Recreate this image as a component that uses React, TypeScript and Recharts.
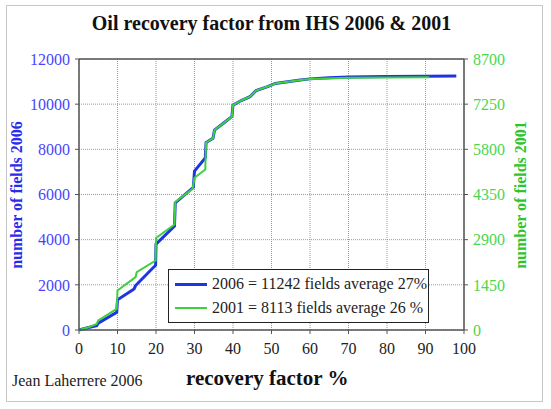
import { CartesianGrid, Legend, Line, LineChart, ReferenceLine, XAxis, YAxis } from 'recharts';

// recovery factor % (x) and cumulative number of fields
const rf2006 = [0, 2.5, 4.6, 5, 9.8, 10, 14.3, 14.7, 19.9, 20, 24.8, 25, 29.7, 30, 32.8, 33, 34.8, 35.2, 38, 39.7, 40, 42, 44.4, 46, 49, 51, 57, 60, 65, 70, 80, 90, 98];
const fields2006 = [0, 110, 195, 300, 780, 1340, 1820, 1970, 2870, 3800, 4600, 5630, 6320, 7040, 7620, 8300, 8490, 8850, 9220, 9450, 9960, 10150, 10330, 10600, 10780, 10920, 11060, 11120, 11170, 11200, 11225, 11236, 11242];

const rf2001 = [0, 2.5, 4.6, 5, 9.8, 10, 14.7, 15, 19.9, 20, 24.8, 25, 29.5, 30, 32.8, 33, 34.8, 35.2, 38, 39.7, 40, 42, 44.4, 46, 49, 51, 57, 60, 70, 80, 91];
const fields2001 = [0, 90, 196, 305, 680, 1270, 1700, 1855, 2230, 2955, 3385, 4110, 4530, 4885, 5155, 6020, 6155, 6415, 6685, 6850, 7220, 7360, 7490, 7685, 7815, 7915, 8020, 8060, 8095, 8106, 8113];

const xTicks = [0, 10, 20, 30, 40, 50, 60, 70, 80, 90, 100];
const leftTicks = [0, 2000, 4000, 6000, 8000, 10000, 12000];
const rightTicks = [0, 1450, 2900, 4350, 5800, 7250, 8700];

const SERIF = "'Liberation Serif', 'DejaVu Serif', serif";
const BLUE = '#1f35e0';
const GREEN = '#3fd03f';
const BLUE_TXT = '#4646ff';
const GREEN_TXT = '#4cd64c';
const FRAME = '#555';

const data2006 = rf2006.map((rf, i) => ({ rf, n: fields2006[i] }));
const data2001 = rf2001.map((rf, i) => ({ rf, n: fields2001[i] }));

function LegendBox() {
  const row = (color: string, w: number, label: string) => (
    <div style={{ display: 'flex', alignItems: 'center', height: 24 }}>
      <span style={{ display: 'inline-block', width: 32, height: w, background: color, marginRight: 5 }} />
      <span>{label}</span>
    </div>
  );
  return (
    <div
      style={{
        border: '1px solid #222',
        background: '#fff',
        padding: '2px 0 2px 6px',
        fontFamily: SERIF,
        fontSize: 16,
        color: '#222',
        boxSizing: 'border-box',
        width: 261,
        height: 54,
        whiteSpace: 'nowrap',
      }}
    >
      {row(BLUE, 3, '2006 = 11242 fields average 27%')}
      {row(GREEN, 2, '2001 = 8113 fields average 26 %')}
    </div>
  );
}

export default function App() {
  return (
    <div style={{ position: 'relative', width: 551, height: 409, background: '#fff', fontFamily: SERIF }}>
      <style>{`body{margin:0} .recharts-wrapper text{font-family:${SERIF} !important}`}</style>
      <div
        style={{
          position: 'absolute', left: 6, top: 5, width: 537, height: 397,
          border: '1px solid #c8c8c8', boxSizing: 'border-box',
        }}
      />
      <div
        style={{
          position: 'absolute', left: 0, top: 12, width: 543, textAlign: 'center',
          fontFamily: SERIF, fontWeight: 'bold', fontSize: 20, color: '#111',
        }}
      >
        Oil recovery factor from IHS 2006 &amp; 2001
      </div>
      <LineChart width={551} height={409} margin={{ top: 59, right: 0, bottom: 0, left: 0 }}>
        <CartesianGrid yAxisId="left" stroke="#9a9a9a" strokeDasharray="1 1" />
        <XAxis
          dataKey="rf"
          type="number"
          domain={[0, 100]}
          ticks={xTicks}
          height={79}
          tick={{ fill: '#222', fontSize: 16, fontFamily: SERIF }}
          tickSize={4}
          tickMargin={9}
          axisLine={{ stroke: FRAME, strokeWidth: 1.5 }}
          tickLine={{ stroke: FRAME }}
        />
        <YAxis
          yAxisId="left"
          domain={[0, 12000]}
          ticks={leftTicks}
          width={79}
          tick={{ fill: BLUE_TXT, fontSize: 16, fontFamily: SERIF }}
          tickSize={4}
          tickMargin={5}
          axisLine={{ stroke: FRAME, strokeWidth: 1.5 }}
          tickLine={{ stroke: FRAME }}
        />
        <YAxis
          yAxisId="right"
          orientation="right"
          domain={[0, 8700]}
          ticks={rightTicks}
          width={87}
          tick={{ fill: GREEN_TXT, fontSize: 16, fontFamily: SERIF }}
          tickSize={4}
          tickMargin={5}
          axisLine={{ stroke: FRAME, strokeWidth: 1.5 }}
          tickLine={{ stroke: FRAME }}
        />
        <ReferenceLine yAxisId="left" y={12000} stroke={FRAME} strokeWidth={1.5} />
        <Line
          data={data2006}
          dataKey="n"
          yAxisId="left"
          type="linear"
          stroke={BLUE}
          strokeWidth={3}
          dot={false}
          isAnimationActive={false}
        />
        <Line
          data={data2001}
          dataKey="n"
          yAxisId="right"
          type="linear"
          stroke={GREEN}
          strokeWidth={2}
          dot={false}
          isAnimationActive={false}
        />
        <Legend
          layout="horizontal"
          verticalAlign="middle"
          align="center"
          content={() => <LegendBox />}
          wrapperStyle={{ left: 168, top: 269, width: 261, height: 54 }}
        />
      </LineChart>
      <div
        style={{
          position: 'absolute', left: 17, top: 195, transform: 'translate(-50%, -50%) rotate(-90deg)',
          whiteSpace: 'nowrap', fontFamily: SERIF, fontWeight: 'bold', fontSize: 16, color: '#2b2bea',
        }}
      >
        number of fields 2006
      </div>
      <div
        style={{
          position: 'absolute', left: 521, top: 195, transform: 'translate(-50%, -50%) rotate(-90deg)',
          whiteSpace: 'nowrap', fontFamily: SERIF, fontWeight: 'bold', fontSize: 16, color: '#2fc42f',
        }}
      >
        number of fields 2001
      </div>
      <div
        style={{
          position: 'absolute', left: 12, top: 372, fontFamily: SERIF, fontSize: 16, color: '#222',
        }}
      >
        Jean Laherrere 2006
      </div>
      <div
        style={{
          position: 'absolute', left: 186, top: 366, fontFamily: SERIF, fontWeight: 'bold', fontSize: 21, color: '#111',
        }}
      >
        recovery factor %
      </div>
    </div>
  );
}
